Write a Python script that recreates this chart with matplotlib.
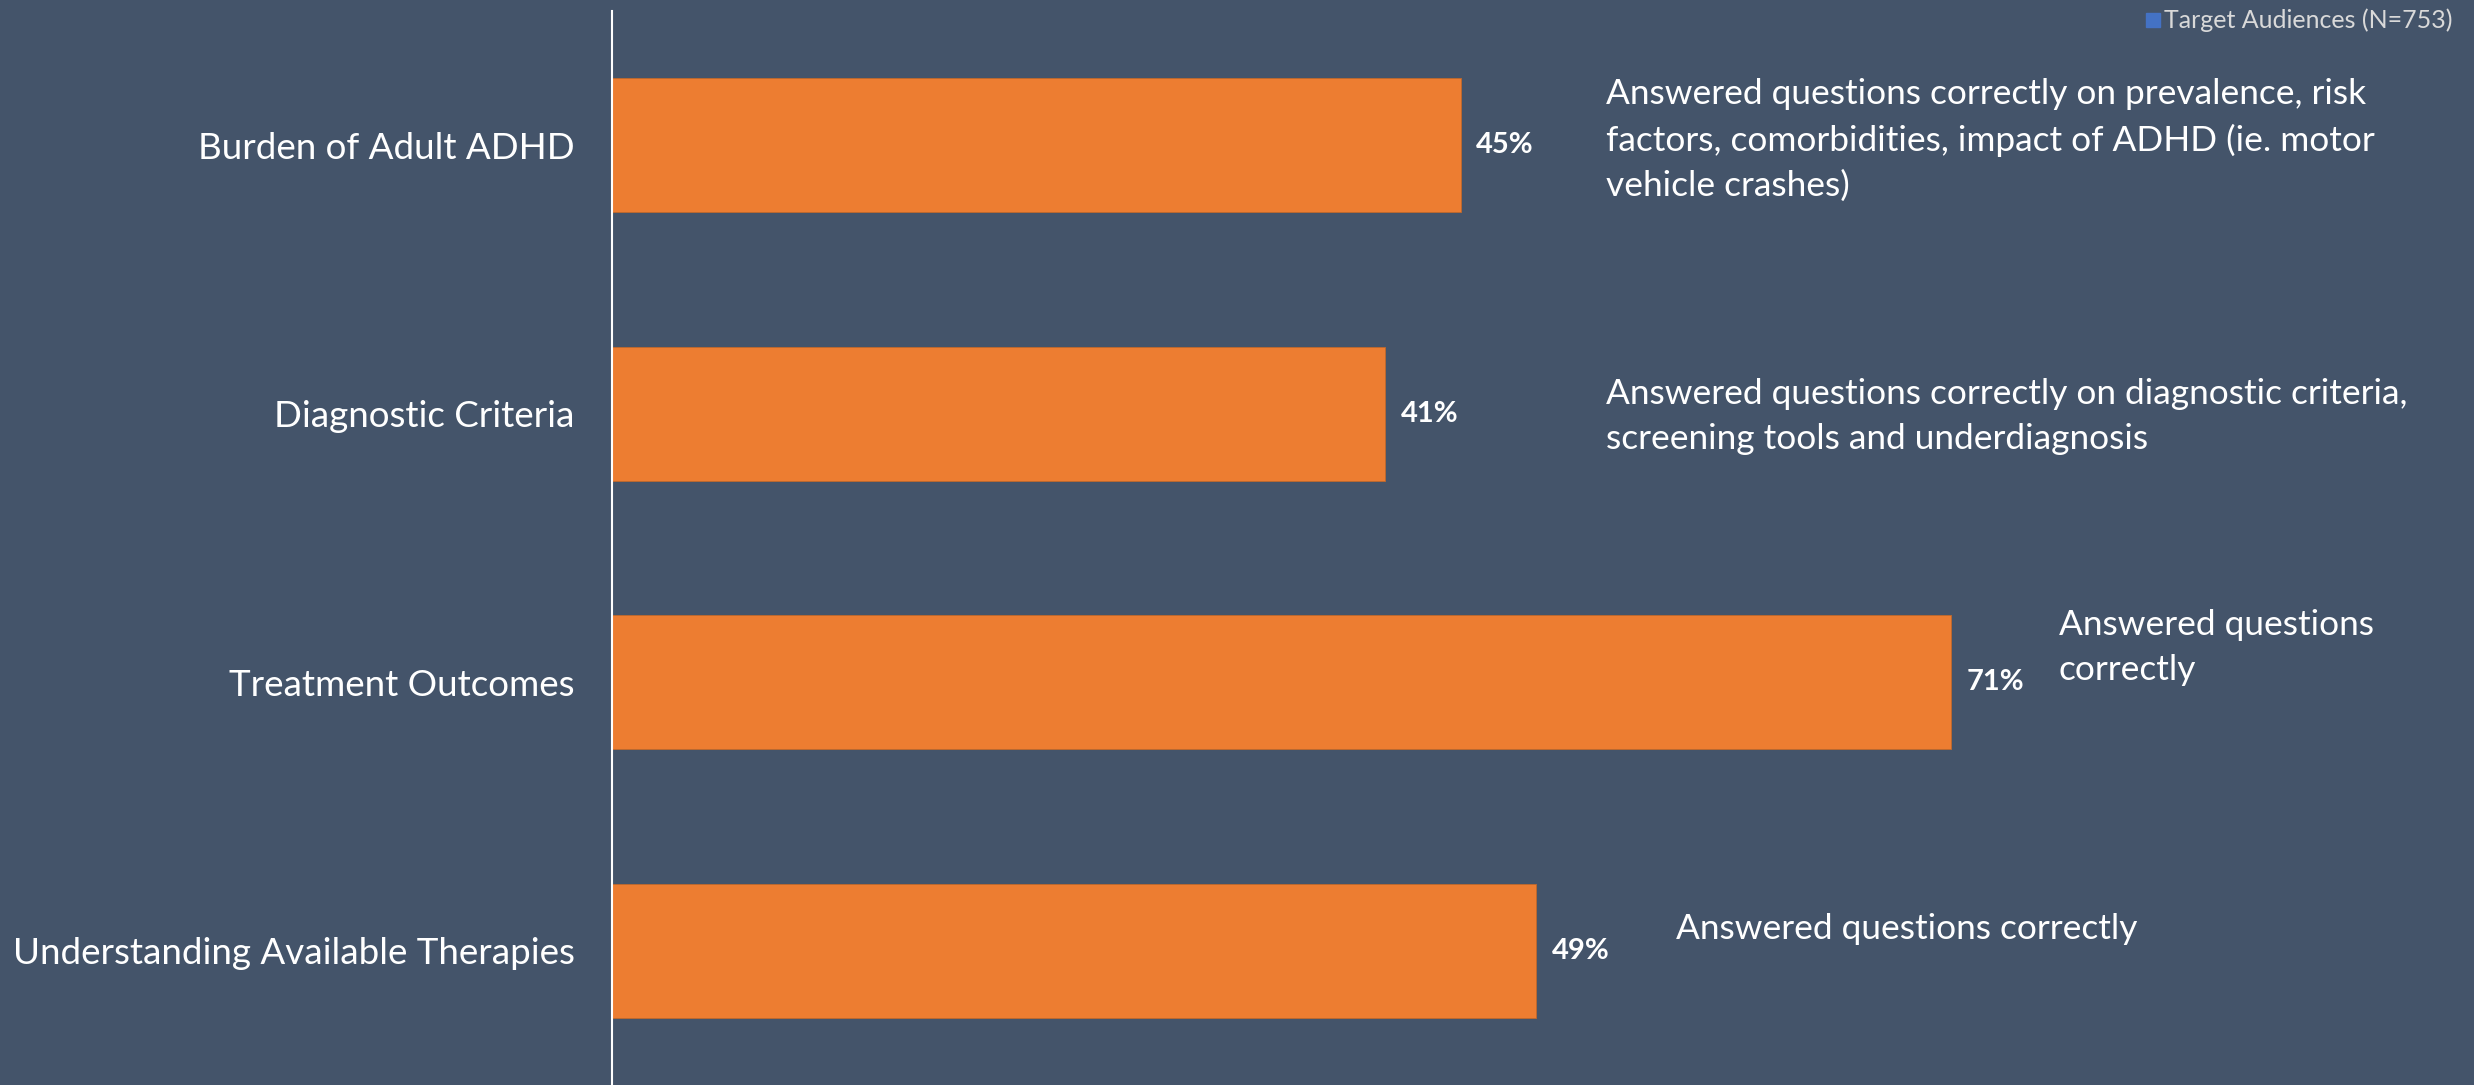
import matplotlib
matplotlib.use("Agg")
import matplotlib.pyplot as plt
from matplotlib.patches import Rectangle

categories = ["Burden of Adult ADHD", "Diagnostic Criteria", "Treatment Outcomes",
              "Understanding Available Therapies"]
values = [45, 41, 71, 49]
notes = [
    "Answered questions correctly on prevalence, risk\nfactors, comorbidities, impact of ADHD (ie. motor\nvehicle crashes)",
    "Answered questions correctly on diagnostic criteria,\nscreening tools and underdiagnosis",
    "Answered questions\ncorrectly",
    "Answered questions correctly",
]
series_name = "Target Audiences (N=753)"

# layout (not data)
note_x = [52.7, 52.7, 76.7, 56.4]
note_dy = [-0.02, 0.01, -0.13, -0.08]

BG = "#44546A"
ORANGE = "#ED7D31"
BLUE = "#4472C4"
FONT = ["Lato", "DejaVu Sans"]
plt.rcParams["font.family"] = FONT

W, H = 2474, 1085
fig = plt.figure(figsize=(W / 100, H / 100), dpi=100, facecolor=BG)
ax = fig.add_axes([612 / W, 0, 1 - 612 / W, (H - 11) / H])
ax.set_facecolor(BG)

y = list(range(len(categories)))
ax.barh(y, values, height=0.5, color=ORANGE, edgecolor="#C0692B", linewidth=0.6)
ax.set_xlim(0, 98.7)
ax.set_ylim(3.5, -0.5)

for s in ["top", "right", "bottom"]:
    ax.spines[s].set_visible(False)
ax.spines["left"].set_color("white")
ax.spines["left"].set_linewidth(1.5)
ax.set_xticks([])
ax.set_yticks(y)
ax.set_yticklabels(categories, color="white", fontsize=26.5)
ax.tick_params(axis="y", length=0, pad=27)

for i, v in enumerate(values):
    ax.annotate(f"{v}%", xy=(v, i), xytext=(11, 0), textcoords="offset points",
                va="center", ha="left", color="white", fontsize=21, fontweight="bold")
    ax.text(note_x[i], i + note_dy[i], notes[i], va="center", ha="left",
            color="white", fontsize=25.4, linespacing=1.5)

# legend
fig.patches.append(Rectangle((2146 / W, 1 - 27 / H), 14 / W, 14 / H,
                             transform=fig.transFigure, color=BLUE))
fig.text(2164 / W, 1 - 20 / H, series_name, color="#D9D9D9", fontsize=18,
         va="center", ha="left")

fig.savefig("out.png", dpi=100, facecolor=BG)
